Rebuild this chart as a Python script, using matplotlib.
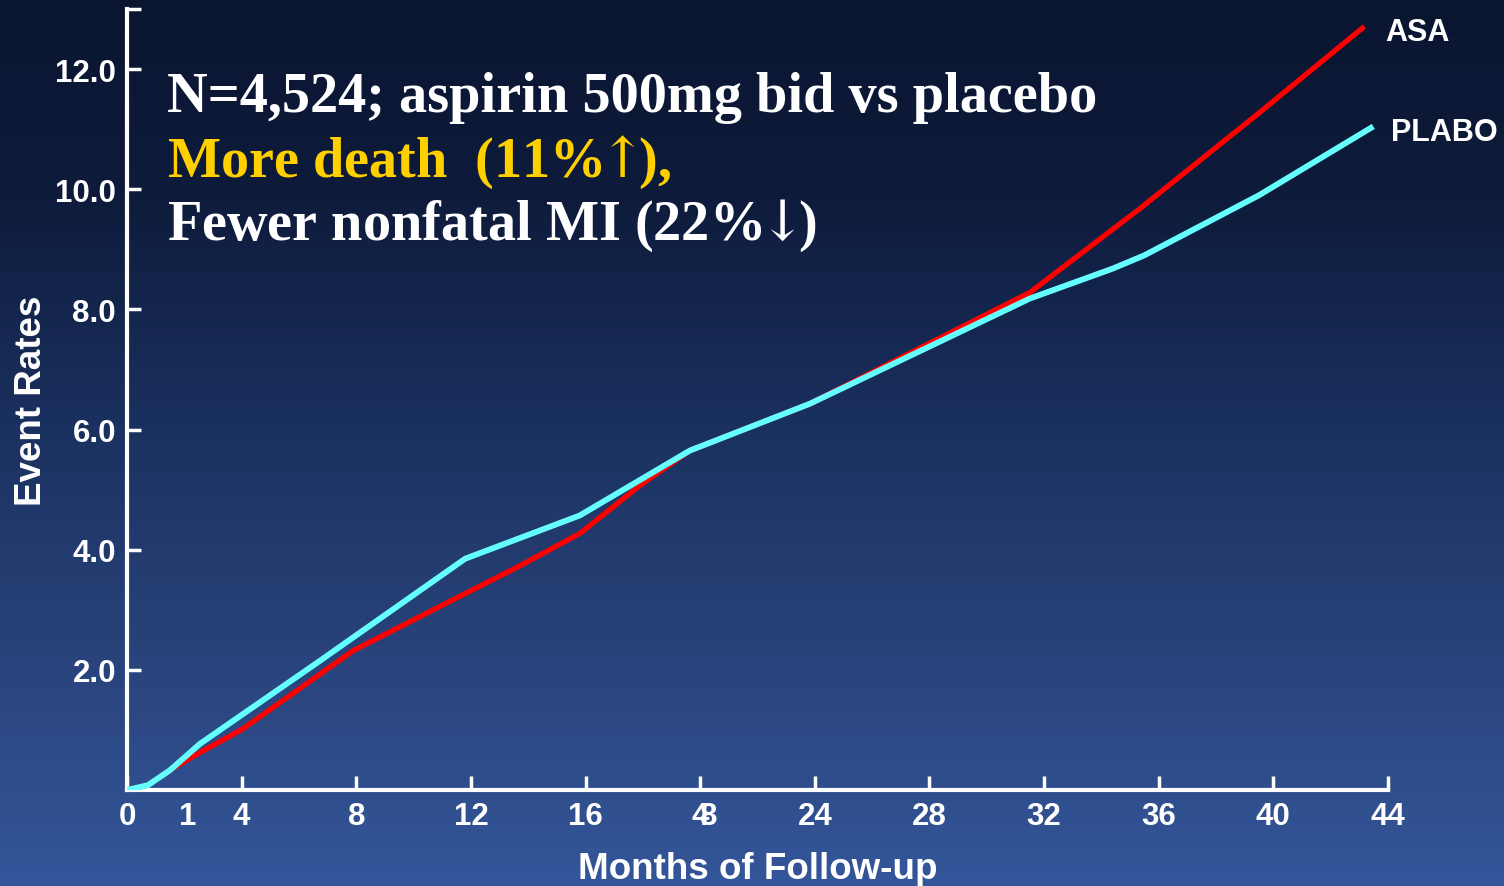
import numpy as np
import matplotlib
matplotlib.use("Agg")
import matplotlib.pyplot as plt
from matplotlib.colors import LinearSegmentedColormap

# Data
asa_months = [0, 0.73, 1.5, 2.27, 4.05, 7.89, 13.7, 15.8, 17.9, 19.64, 23.83, 31.5, 35.35, 39.5, 43.1]
asa_rates = [0, 0.08, 0.33, 0.55, 1.02, 2.32, 3.73, 4.27, 5.07, 5.65, 6.43, 8.28, 9.68, 11.27, 12.68]

placebo_months = [0, 0.73, 1.5, 2.55, 6.73, 11.8, 15.8, 19.64, 23.83, 31.5, 34.4, 35.5, 39.5, 43.4]
placebo_rates = [0, 0.08, 0.33, 0.77, 2.15, 3.85, 4.57, 5.65, 6.43, 8.18, 8.68, 8.9, 9.9, 11.02]

x_ticks = [0, 4, 8, 12, 16, 20, 24, 28, 32, 36, 40, 44]
x_labels = ["0", "4", "8", "12", "16", "4", "24", "28", "32", "36", "40", "44"]
x_extra = [2.13, 20.3]
x_extra_labels = ["1", "8"]
y_ticks = [2, 4, 6, 8, 10, 12, 13]
y_labels = ["2.0", "4.0", "6.0", "8.0", "10.0", "12.0", ""]

plt.rcParams["mathtext.fontset"] = "dejavuserif"

fig = plt.figure(figsize=(15.04, 8.87), dpi=100)

# background gradient
bg = fig.add_axes([0, 0, 1, 1])
cmap = LinearSegmentedColormap.from_list("bg", [
    (0.0, "#0a1530"), (0.22, "#0e1b3b"), (0.5, "#1b3262"),
    (0.68, "#263f74"), (1.0, "#34569a")])
grad = np.linspace(0, 1, 256).reshape(-1, 1)
bg.imshow(grad, aspect="auto", cmap=cmap, extent=[0, 1, 1, 0])
bg.axis("off")

ax = fig.add_axes([127 / 1504, 96 / 887, 1261 / 1504, 781 / 887])
ax.patch.set_alpha(0)

ax.plot(asa_months, asa_rates, color="#ff0000", lw=3.8, solid_joinstyle="round", zorder=3)
ax.plot(placebo_months, placebo_rates, color="#66ffff", lw=4.2, solid_joinstyle="round", zorder=4)

ax.set_xlim(0, 44)
ax.set_ylim(0, 13)

for s in ["top", "right"]:
    ax.spines[s].set_visible(False)
for s in ["left", "bottom"]:
    ax.spines[s].set_color("white")
    ax.spines[s].set_linewidth(3)

ax.set_xticks(x_ticks)
ax.set_xticklabels(x_labels)
ax.set_xticks(x_extra, minor=True)
ax.set_xticklabels(x_extra_labels, minor=True)
ax.set_yticks(y_ticks)
ax.set_yticklabels(y_labels)

ax.tick_params(axis="both", which="major", direction="in", length=10, width=2.5,
               colors="white", labelsize=22.5, pad=8)
ax.tick_params(axis="x", which="minor", length=0, colors="white", labelsize=22.5, pad=8)
for lab in ax.get_xticklabels(which="both") + ax.get_yticklabels():
    lab.set_fontweight("bold")
    lab.set_family("Liberation Sans")

ax.set_xlabel("Months of Follow-up", color="white", fontsize=26.5, fontweight="bold",
              family="Liberation Sans", labelpad=14)
ax.set_ylabel("Event Rates", color="white", fontsize=26.5, fontweight="bold",
              family="Liberation Sans", labelpad=4)

# line labels
ax.text(43.9, 12.62, "ASA", color="white", fontsize=22, fontweight="bold",
        family="Liberation Sans", va="center", ha="left", clip_on=False)
ax.text(44.1, 10.95, "PLABO", color="white", fontsize=22, fontweight="bold",
        family="Liberation Sans", va="center", ha="left", clip_on=False)

# headline text
serif = "Liberation Serif"
fig.text(167 / 1504, 1 - 112 / 887, "N=4,524; aspirin 500mg bid vs placebo", color="white",
         fontsize=40.5, fontweight="bold", family=serif, va="baseline")
fig.text(167 / 1504, 1 - 177 / 887, r"More death  (11%$\!\!\uparrow\!\!$),", color="#ffd000",
         fontsize=40.5, fontweight="bold", family=serif, va="baseline")
fig.text(167 / 1504, 1 - 240 / 887, r"Fewer nonfatal MI (22%$\!\!\downarrow\!\!$)", color="white",
         fontsize=40.5, fontweight="bold", family=serif, va="baseline")

fig.savefig("out.png", dpi=100)
